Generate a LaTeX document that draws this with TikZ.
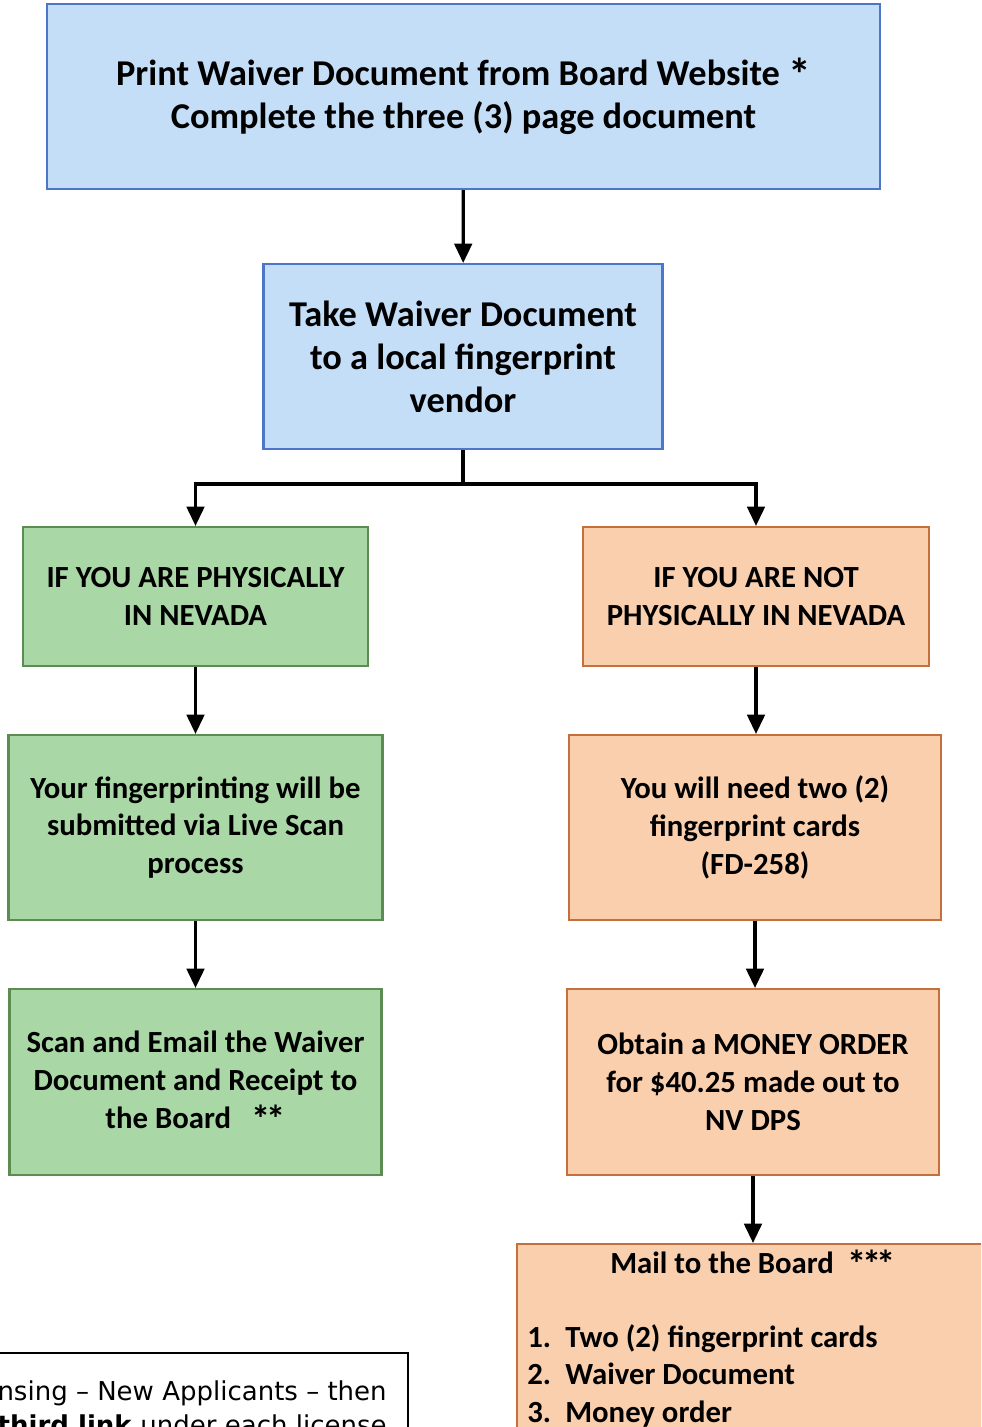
\documentclass[tikz,border=0pt]{standalone}
\usepackage{fontspec}
\setmainfont{Carlito}
\newfontfamily\notefont{DejaVu Sans}
\usetikzlibrary{positioning,arrows.meta}

\definecolor{blueFill}{RGB}{197,222,247}
\definecolor{blueLine}{RGB}{78,118,200}
\definecolor{greenFill}{RGB}{170,215,166}
\definecolor{greenLine}{RGB}{92,140,82}
\definecolor{orangeFill}{RGB}{250,207,174}
\definecolor{orangeLine}{RGB}{196,112,62}

\newcommand{\starmark}[1]{\raisebox{-0.15em}{\scalebox{1.25}{#1}}}

\tikzset{
	box/.style={draw,line width=1.2pt,align=center,inner sep=2pt,font=\bfseries\fontsize{17.5}{21.5}\selectfont},
	bluebox/.style={box,fill=blueFill,draw=blueLine,font=\bfseries\fontsize{20.7}{24.5}\selectfont},
	greenbox/.style={box,fill=greenFill,draw=greenLine},
	orangebox/.style={box,fill=orangeFill,draw=orangeLine},
	flow/.style={line width=1.8pt,-{Triangle[width=10pt,length=11pt]}}
}

\begin{document}
\begin{tikzpicture}[x=0.02cm,y=-0.02cm]
	\useasboundingbox (0,0) rectangle (981,1427);
	\clip (0,0) rectangle (981,1427);
	% top of the flow
	\node[bluebox,minimum width=16.66cm,minimum height=3.7cm] (print) at (463.5,96.5) {Print Waiver Document from Board Website \starmark{*}\\Complete the three (3) page document};
	\node[bluebox,minimum width=7.98cm,minimum height=3.7cm] (take) at (463,356.5) {Take Waiver Document\\to a local fingerprint\\vendor};
	% left branch
	\node[greenbox,minimum width=6.9cm,minimum height=2.78cm] (inNV) at (195.5,596.5) {IF YOU ARE PHYSICALLY\\IN NEVADA};
	\node[greenbox,minimum width=7.48cm,minimum height=3.7cm] (livescan) at (195.5,827.5) {Your fingerprinting will be\\submitted via Live Scan\\process};
	\node[greenbox,minimum width=7.44cm,minimum height=3.72cm] (email) at (195.5,1082) {Scan and Email the Waiver\\Document and Receipt to\\the Board\ \ \ \starmark{*\kern-0.12em*}};
	% right branch
	\node[orangebox,minimum width=6.92cm,minimum height=2.78cm] (outNV) at (756,596.5) {IF YOU ARE NOT\\PHYSICALLY IN NEVADA};
	\node[orangebox,minimum width=7.44cm,minimum height=3.7cm] (cards) at (755,827.5) {You will need two (2)\\fingerprint cards\\(FD-258)};
	\node[orangebox,minimum width=7.44cm,minimum height=3.72cm] (money) at (753,1082) {Obtain a MONEY ORDER\\for \$40.25 made out to\\NV DPS};
	\node[orangebox,minimum width=9.4cm,minimum height=4.2cm,anchor=north west] (mail) at (516,1243) {};
	\node[font=\bfseries\fontsize{17.5}{21.5}\selectfont,anchor=north west,inner sep=0pt] (mailtitle) at (610,1250) {Mail to the Board\ \ \starmark{*\kern-0.12em*\kern-0.12em*}};
	\node[font=\bfseries\fontsize{17.5}{21.5}\selectfont,anchor=north west,align=left,inner sep=0pt] (maillist) at (527,1324) {\makebox[0.76cm][l]{1.}Two (2) fingerprint cards\\\makebox[0.76cm][l]{2.}Waiver Document\\\makebox[0.76cm][l]{3.}Money order};
	% note at the bottom left
	\node[draw,line width=1pt,fill=white,minimum width=8.8cm,minimum height=2.4cm,anchor=north east] (note) at (409,1352) {};
	\node[font=\notefont\fontsize{14.8}{18}\selectfont,anchor=base east,inner sep=0pt] (noteA) at (387,1400) {nsing – New Applicants – then};
	\node[font=\notefont\fontsize{14.8}{18}\selectfont,anchor=base east,inner sep=0pt] (noteB) at (387,1434) {\textbf{third link} under each license};
	% connectors
	\coordinate (split) at (463,484);
	\draw[flow] (print) -- (take);
	\draw[line width=1.8pt] (take.south) -- (split);
	\draw[flow] (split) -| (inNV.north);
	\draw[flow] (split) -| (outNV.north);
	\draw[flow] (inNV) -- (livescan);
	\draw[flow] (livescan) -- (email);
	\draw[flow] (outNV.south) -- (outNV.south |- cards.north);
	\draw[flow] (cards.south) -- (cards.south |- money.north);
	\draw[flow] (money.south) -- (money.south |- mail.north);
\end{tikzpicture}
\end{document}
